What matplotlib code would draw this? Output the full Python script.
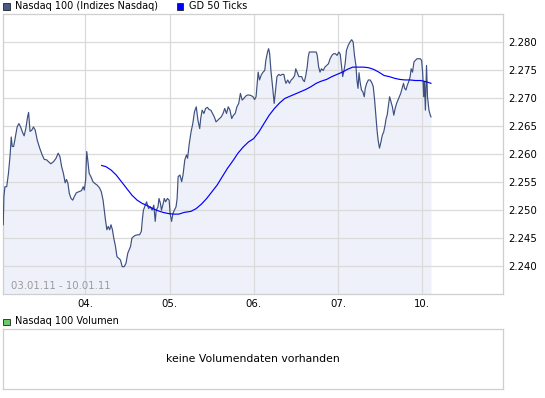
import matplotlib
matplotlib.use("Agg")
import matplotlib.pyplot as plt
from matplotlib.patches import Rectangle
from matplotlib.ticker import FuncFormatter

# ---- data (time in trading days since 03.01.11 open; price in index points) ----
price_t = [0.026, 0.034, 0.046, 0.067, 0.088, 0.108, 0.121, 0.133, 0.150, 0.170,
           0.191, 0.212, 0.232, 0.253, 0.274, 0.294, 0.315, 0.327, 0.344, 0.364,
           0.385, 0.406, 0.430, 0.459, 0.488, 0.513, 0.542, 0.562, 0.591, 0.624,
           0.653, 0.678, 0.699, 0.719, 0.740, 0.761, 0.777, 0.794, 0.810, 0.831,
           0.851, 0.872, 0.893, 0.922, 0.955, 0.975, 0.988, 1.004, 1.017, 1.029,
           1.046, 1.066, 1.091, 1.112, 1.140, 1.169, 1.190, 1.211, 1.223, 1.239,
           1.256, 1.272, 1.289, 1.305, 1.322, 1.338, 1.355, 1.376, 1.396, 1.417,
           1.438, 1.462, 1.483, 1.504, 1.520, 1.537, 1.553, 1.574, 1.594, 1.619,
           1.644, 1.665, 1.677, 1.690, 1.710, 1.727, 1.739, 1.751, 1.772, 1.793,
           1.813, 1.830, 1.842, 1.863, 1.875, 1.892, 1.904, 1.925, 1.937, 1.954,
           1.974, 1.995, 2.007, 2.024, 2.040, 2.057, 2.077, 2.090, 2.102, 2.123,
           2.144, 2.160, 2.181, 2.201, 2.214, 2.234, 2.255, 2.276, 2.296, 2.317,
           2.337, 2.358, 2.370, 2.387, 2.408, 2.428, 2.449, 2.470, 2.490, 2.511,
           2.531, 2.552, 2.573, 2.593, 2.614, 2.635, 2.655, 2.676, 2.697, 2.717,
           2.738, 2.759, 2.779, 2.800, 2.821, 2.841, 2.862, 2.882, 2.903, 2.924,
           2.949, 2.969, 2.990, 3.010, 3.027, 3.039, 3.052, 3.068, 3.089, 3.110,
           3.130, 3.143, 3.163, 3.176, 3.188, 3.205, 3.225, 3.242, 3.258, 3.275,
           3.296, 3.316, 3.337, 3.357, 3.370, 3.382, 3.403, 3.423, 3.444, 3.465,
           3.485, 3.498, 3.514, 3.535, 3.551, 3.568, 3.584, 3.601, 3.617, 3.634,
           3.646, 3.659, 3.679, 3.700, 3.720, 3.741, 3.753, 3.770, 3.786, 3.803,
           3.824, 3.844, 3.865, 3.886, 3.906, 3.927, 3.948, 3.968, 3.989, 4.009,
           4.026, 4.042, 4.055, 4.071, 4.084, 4.100, 4.121, 4.142, 4.162, 4.179,
           4.195, 4.212, 4.224, 4.237, 4.249, 4.261, 4.278, 4.294, 4.311, 4.323,
           4.340, 4.360, 4.381, 4.401, 4.418, 4.434, 4.451, 4.463, 4.476, 4.492,
           4.509, 4.525, 4.542, 4.558, 4.571, 4.583, 4.596, 4.612, 4.629, 4.645,
           4.662, 4.678, 4.695, 4.711, 4.728, 4.744, 4.761, 4.777, 4.790, 4.806,
           4.823, 4.839, 4.856, 4.868, 4.884, 4.901, 4.917, 4.938, 4.959, 4.975,
           4.992, 5.004, 5.017, 5.025, 5.037, 5.050, 5.062, 5.079, 5.095, 5.103]
price_v = [2247.3, 2252.3, 2254.1, 2254.1, 2256.5, 2259.8, 2263.0, 2261.3, 2261.3, 2263.0,
           2264.8, 2265.4, 2264.8, 2263.9, 2263.2, 2264.5, 2266.6, 2267.4, 2264.0, 2264.2,
           2264.8, 2264.2, 2262.4, 2261.0, 2259.8, 2259.0, 2258.9, 2258.6, 2258.2, 2258.6,
           2259.2, 2260.1, 2259.5, 2257.7, 2256.5, 2254.8, 2255.4, 2254.7, 2252.9, 2252.0,
           2251.7, 2252.4, 2253.0, 2253.2, 2253.4, 2254.1, 2253.5, 2255.3, 2260.4, 2258.9,
           2256.5, 2255.9, 2255.0, 2254.7, 2254.4, 2253.9, 2253.2, 2251.7, 2250.2, 2248.2,
           2246.4, 2247.0, 2246.4, 2247.3, 2246.4, 2244.9, 2243.7, 2241.6, 2241.3, 2241.0,
           2239.8, 2239.8, 2240.4, 2242.2, 2242.8, 2243.4, 2244.9, 2245.2, 2245.4, 2245.5,
           2245.5, 2246.1, 2248.2, 2249.9, 2250.7, 2251.4, 2250.8, 2250.2, 2250.5, 2249.9,
           2250.8, 2247.9, 2249.9, 2250.5, 2252.0, 2251.1, 2249.9, 2251.1, 2252.0, 2251.4,
           2252.0, 2251.7, 2249.3, 2247.9, 2249.3, 2249.9, 2250.5, 2252.0, 2255.9, 2256.2,
           2255.0, 2256.2, 2258.9, 2259.8, 2259.2, 2261.8, 2263.9, 2265.4, 2267.5, 2268.4,
           2266.0, 2264.5, 2266.3, 2267.8, 2267.2, 2268.1, 2268.3, 2267.9, 2267.8, 2267.2,
           2266.6, 2265.7, 2266.0, 2266.3, 2266.6, 2267.2, 2268.1, 2267.2, 2268.4, 2267.8,
           2266.3, 2266.9, 2267.2, 2268.4, 2269.0, 2270.8, 2269.6, 2269.9, 2270.3, 2270.5,
           2270.5, 2270.4, 2270.2, 2269.7, 2270.2, 2272.3, 2274.6, 2273.2, 2274.1, 2274.6,
           2274.9, 2276.7, 2278.2, 2278.8, 2277.9, 2274.6, 2271.7, 2269.0, 2271.4, 2273.8,
           2274.2, 2274.0, 2274.2, 2274.2, 2273.2, 2272.6, 2273.2, 2272.6, 2273.2, 2273.5,
           2274.0, 2275.2, 2274.6, 2273.8, 2273.8, 2273.8, 2273.2, 2272.9, 2274.0, 2275.5,
           2277.3, 2278.2, 2278.2, 2278.2, 2278.2, 2278.2, 2277.6, 2275.5, 2274.6, 2275.2,
           2274.9, 2275.5, 2275.8, 2276.1, 2277.0, 2277.6, 2277.9, 2277.9, 2277.6, 2278.2,
           2277.8, 2275.5, 2273.8, 2274.9, 2276.1, 2278.5, 2279.4, 2280.0, 2280.4, 2280.0,
           2277.6, 2275.8, 2273.2, 2271.7, 2274.5, 2272.9, 2271.4, 2271.1, 2270.2, 2271.7,
           2272.6, 2273.2, 2273.2, 2272.7, 2272.0, 2269.6, 2266.3, 2264.2, 2262.4, 2261.0,
           2262.1, 2263.3, 2263.9, 2265.1, 2266.3, 2266.9, 2268.4, 2270.2, 2269.3, 2268.4,
           2266.9, 2268.1, 2269.0, 2269.6, 2270.2, 2270.8, 2271.7, 2272.6, 2271.7, 2271.4,
           2272.3, 2272.9, 2273.8, 2275.2, 2274.6, 2276.4, 2276.7, 2277.0, 2277.0, 2277.0,
           2276.7, 2274.6, 2270.2, 2272.9, 2267.8, 2275.8, 2270.2, 2267.8, 2266.9, 2266.6]

ma_t = [1.194, 1.244, 1.305, 1.367, 1.429, 1.491, 1.553, 1.615, 1.677, 1.739,
        1.801, 1.863, 1.925, 1.987, 2.049, 2.110, 2.172, 2.255, 2.317, 2.379,
        2.441, 2.503, 2.565, 2.626, 2.688, 2.750, 2.812, 2.874, 2.936, 2.998,
        3.060, 3.121, 3.183, 3.245, 3.307, 3.369, 3.431, 3.493, 3.555, 3.617,
        3.679, 3.741, 3.803, 3.865, 3.927, 3.989, 4.051, 4.112, 4.174, 4.236,
        4.298, 4.360, 4.422, 4.484, 4.546, 4.608, 4.670, 4.732, 4.794, 4.856,
        4.918, 4.980, 5.041, 5.103]
ma_v = [2257.9, 2257.7, 2257.1, 2256.2, 2255.0, 2253.8, 2252.6, 2251.7, 2251.1, 2250.7,
        2250.2, 2249.8, 2249.5, 2249.3, 2249.2, 2249.2, 2249.5, 2249.7, 2250.2, 2251.0,
        2252.0, 2253.2, 2254.4, 2255.9, 2257.4, 2258.7, 2260.1, 2261.2, 2262.1, 2262.7,
        2263.9, 2265.4, 2266.9, 2268.1, 2269.1, 2269.9, 2270.3, 2270.7, 2271.1, 2271.5,
        2272.0, 2272.6, 2273.0, 2273.3, 2273.8, 2274.2, 2274.6, 2275.1, 2275.5, 2275.5,
        2275.5, 2275.4, 2275.1, 2274.6, 2274.0, 2273.8, 2273.5, 2273.3, 2273.2, 2273.2,
        2273.1, 2273.1, 2272.9, 2272.6]

day_ticks = [1, 2, 3, 4, 5]
day_labels = ["04.", "05.", "06.", "07.", "10."]
y_ticks = [2240, 2245, 2250, 2255, 2260, 2265, 2270, 2275, 2280]
y_range = (2235, 2285)

series_name = "Nasdaq 100 (Indizes Nasdaq)"
ma_name = "GD 50 Ticks"
vol_name = "Nasdaq 100 Volumen"
period_text = "03.01.11 - 10.01.11"
no_vol_text = "keine Volumendaten vorhanden"

# ---- styling ----
plt.rcParams['font.family'] = ['DejaVu Sans']
W, H = 545, 398
LINE_C = '#3D5080'
FILL_C = '#EEF1F9'
MA_C = '#0000FF'
GRID_C = '#DADADA'
SPINE_C = '#CFCFCF'
FS = 7

fig = plt.figure(figsize=(W / 100, H / 100), dpi=100)


def px_axes(x0, y0, x1, y1):
    return fig.add_axes([x0 / W, 1 - y1 / H, (x1 - x0) / W, (y1 - y0) / H])


def fx(x):
    return x / W


def fy(y):
    return 1 - y / H


ax = px_axes(2.7, 14, 503, 293.5)
ax.set_xlim(0.0196, 5.958)
ax.set_ylim(*y_range)
ax.fill_between(price_t, price_v, y_range[0], color=FILL_C, lw=0, zorder=0.2)
ax.plot(price_t, price_v, color=LINE_C, lw=0.85, zorder=3)
ax.plot(ma_t, ma_v, color=MA_C, lw=0.85, zorder=4)
ax.set_xticks(day_ticks)
ax.set_xticklabels(day_labels)
ax.set_yticks(y_ticks)
ax.yaxis.tick_right()
ax.yaxis.set_major_formatter(FuncFormatter(lambda v, p: f"{v:,.0f}".replace(",", ".")))
ax.tick_params(length=0, labelsize=FS + 0.3, pad=4, colors='black')
ax.set_axisbelow(True)
ax.grid(color=GRID_C, lw=0.9)
for s in ax.spines.values():
    s.set_color(SPINE_C)
    s.set_linewidth(0.9)
ax.text(fx(8) / ((503 - 2.7) / W), 0.010, period_text, transform=ax.transAxes,
        fontsize=FS + 0.3, color='#9A9A9A', ha='left', va='bottom')

# volume panel
axv = px_axes(2.7, 329, 503, 389)
axv.set_xticks([])
axv.set_yticks([])
for s in axv.spines.values():
    s.set_color(SPINE_C)
    s.set_linewidth(0.9)
axv.text(0.5, 0.5, no_vol_text, transform=axv.transAxes, ha='center', va='center',
         fontsize=FS + 0.8, color='black')

# legends (figure level)
def legend_item(x, y, color, label):
    fig.patches.append(Rectangle((fx(x), fy(y + 3.5)), 6.5 / W, 6.5 / H,
                                 transform=fig.transFigure, facecolor=color,
                                 edgecolor='#222222', lw=0.6))
    fig.text(fx(x + 12), fy(y), label, fontsize=FS, ha='left', va='center')


legend_item(3.3, 6.3, '#465A84', series_name)
legend_item(176.6, 6.3, MA_C, ma_name)
legend_item(3.3, 321.5, '#66CC66', vol_name)

fig.savefig('out.png', dpi=100)
